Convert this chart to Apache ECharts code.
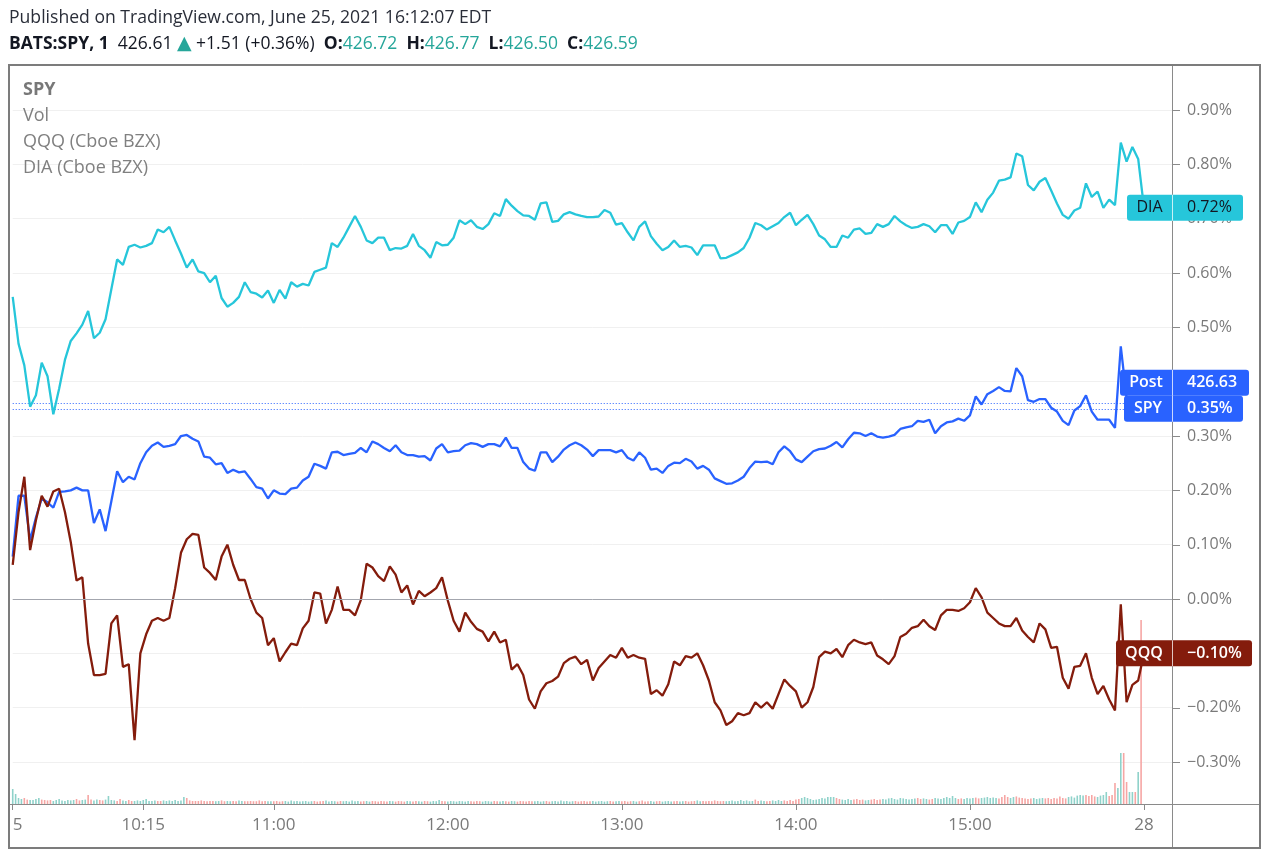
<!DOCTYPE html>
<html><head><meta charset="utf-8">
<script src="https://cdn.jsdelivr.net/npm/echarts@6/dist/echarts.min.js"></script>
<style>html,body{margin:0;padding:0;background:#fff}#chart{width:1270px;height:857px}</style>
</head><body><div id="chart"></div>
<script>
// time grid: minutes after 09:30, one reading every 2 minutes
const minuteStart = 0;
const minuteStep = 2;

const diaPct = [
0.556,0.47,0.43,0.354,0.375,0.435,0.41,0.34,0.387,0.44,0.475,0.489,0.505,0.53,0.48,0.49,0.515,0.57,0.625,0.615,
0.648,0.652,0.647,0.65,0.655,0.68,0.675,0.685,0.66,0.636,0.61,0.625,0.603,0.6,0.583,0.595,0.554,0.538,0.545,0.556,
0.583,0.565,0.562,0.555,0.568,0.545,0.569,0.553,0.583,0.575,0.58,0.577,0.602,0.606,0.61,0.655,0.648,0.665,0.685,0.705,
0.685,0.66,0.655,0.665,0.665,0.642,0.646,0.645,0.65,0.672,0.65,0.642,0.628,0.657,0.651,0.652,0.665,0.697,0.69,0.697,
0.685,0.681,0.69,0.71,0.705,0.736,0.724,0.714,0.706,0.705,0.698,0.728,0.73,0.694,0.696,0.708,0.712,0.708,0.705,0.703,
0.703,0.704,0.716,0.711,0.689,0.692,0.675,0.66,0.685,0.695,0.668,0.654,0.642,0.648,0.66,0.648,0.65,0.647,0.633,0.651,
0.651,0.651,0.627,0.628,0.633,0.638,0.646,0.665,0.692,0.688,0.68,0.686,0.692,0.703,0.711,0.688,0.698,0.707,0.69,0.669,
0.662,0.648,0.648,0.669,0.665,0.68,0.682,0.672,0.674,0.69,0.685,0.69,0.705,0.695,0.688,0.683,0.685,0.69,0.686,0.675,
0.688,0.688,0.672,0.693,0.696,0.703,0.73,0.712,0.735,0.748,0.77,0.772,0.776,0.82,0.815,0.762,0.752,0.768,0.775,0.752,
0.728,0.707,0.7,0.715,0.72,0.765,0.74,0.75,0.72,0.735,0.725,0.84,0.805,0.832,0.81,0.72
];

const spyPct = [
0.078,0.19,0.19,0.108,0.15,0.185,0.178,0.168,0.197,0.198,0.2,0.205,0.2,0.2,0.14,0.165,0.125,0.18,0.235,0.215,
0.225,0.22,0.25,0.27,0.282,0.288,0.28,0.282,0.285,0.3,0.302,0.295,0.29,0.262,0.26,0.248,0.25,0.232,0.238,0.233,
0.235,0.221,0.206,0.203,0.185,0.2,0.194,0.193,0.203,0.205,0.218,0.225,0.249,0.245,0.24,0.27,0.271,0.265,0.267,0.269,
0.278,0.27,0.29,0.285,0.278,0.272,0.283,0.27,0.265,0.265,0.262,0.263,0.255,0.277,0.285,0.27,0.272,0.273,0.283,0.287,
0.285,0.28,0.285,0.285,0.281,0.297,0.278,0.278,0.252,0.24,0.236,0.27,0.27,0.252,0.262,0.275,0.283,0.288,0.283,0.275,
0.263,0.274,0.274,0.274,0.27,0.274,0.26,0.255,0.27,0.26,0.238,0.24,0.232,0.245,0.251,0.25,0.258,0.253,0.24,0.245,
0.238,0.222,0.217,0.212,0.213,0.218,0.225,0.241,0.253,0.252,0.253,0.248,0.27,0.281,0.272,0.257,0.252,0.262,0.272,0.276,
0.277,0.282,0.289,0.279,0.294,0.306,0.305,0.3,0.305,0.299,0.297,0.299,0.302,0.313,0.316,0.318,0.328,0.326,0.33,0.305,
0.318,0.325,0.327,0.332,0.328,0.338,0.373,0.358,0.377,0.383,0.39,0.383,0.382,0.425,0.41,0.366,0.363,0.368,0.368,0.352,
0.345,0.328,0.32,0.347,0.355,0.375,0.345,0.33,0.33,0.33,0.315,0.465,0.37,0.35,0.35,0.35
];

const qqqPct = [
0.063,0.16,0.225,0.09,0.145,0.19,0.17,0.198,0.203,0.16,0.105,0.034,0.04,-0.082,-0.14,-0.14,-0.138,-0.045,-0.03,-0.125,
-0.12,-0.26,-0.1,-0.065,-0.04,-0.035,-0.04,-0.035,0.02,0.085,0.11,0.12,0.118,0.058,0.048,0.035,0.078,0.1,0.063,0.035,
0.035,0.0,-0.025,-0.035,-0.085,-0.072,-0.115,-0.098,-0.082,-0.085,-0.054,-0.04,0.012,0.01,-0.045,-0.02,0.023,-0.02,-0.02,-0.03,
-0.002,0.065,0.058,0.042,0.033,0.06,0.045,0.012,0.025,-0.01,0.015,0.005,0.012,0.02,0.04,-0.003,-0.04,-0.06,-0.025,-0.042,
-0.055,-0.06,-0.078,-0.06,-0.08,-0.075,-0.13,-0.12,-0.14,-0.185,-0.202,-0.17,-0.155,-0.151,-0.143,-0.118,-0.11,-0.106,-0.12,-0.112,
-0.15,-0.127,-0.115,-0.103,-0.108,-0.09,-0.108,-0.103,-0.108,-0.11,-0.175,-0.168,-0.178,-0.157,-0.115,-0.122,-0.105,-0.108,-0.1,-0.122,
-0.15,-0.19,-0.205,-0.232,-0.225,-0.21,-0.214,-0.21,-0.19,-0.2,-0.19,-0.202,-0.175,-0.148,-0.16,-0.17,-0.2,-0.19,-0.162,-0.107,
-0.097,-0.1,-0.092,-0.107,-0.085,-0.075,-0.08,-0.083,-0.08,-0.104,-0.111,-0.12,-0.105,-0.07,-0.064,-0.053,-0.05,-0.038,-0.05,-0.057,
-0.03,-0.02,-0.02,-0.022,-0.017,-0.006,0.02,0.003,-0.025,-0.035,-0.045,-0.05,-0.05,-0.035,-0.058,-0.07,-0.08,-0.045,-0.056,-0.09,
-0.088,-0.145,-0.165,-0.125,-0.123,-0.1,-0.145,-0.175,-0.16,-0.185,-0.205,-0.01,-0.19,-0.158,-0.15,-0.1
];

// SPY volume per minute (thousands of shares), 09:30 .. 15:59
const volumeK = [
75,50,30,25,30,22,20,20,25,30,22,20,18,20,15,20,25,18,15,20,18,20,25,18,20,22,45,22,18,22,
20,18,22,40,20,18,15,25,18,15,20,15,15,18,15,20,25,15,15,18,15,15,18,15,18,15,20,15,18,35,
30,18,15,15,15,18,15,14,15,15,14,15,18,14,15,14,15,14,18,15,14,14,15,14,14,18,14,15,14,14,
14,15,12,14,15,12,18,14,15,12,14,15,12,14,15,12,14,15,18,12,15,14,12,15,14,15,12,18,14,15,
12,14,15,12,15,14,12,15,14,12,15,14,12,15,14,12,15,14,12,15,14,12,15,14,12,15,14,20,15,14,
12,15,14,12,15,14,12,15,14,12,15,14,12,15,14,12,15,14,12,15,14,12,15,14,12,15,14,12,15,14,
14,15,12,14,15,12,14,15,12,18,14,15,12,14,15,12,14,15,12,14,15,12,14,15,12,14,15,12,14,15,
14,15,12,14,15,12,14,18,12,14,15,12,14,15,12,14,15,12,14,15,12,14,15,12,14,15,18,14,15,14,
15,14,18,15,14,15,14,15,18,14,15,20,15,18,14,15,22,15,18,15,14,15,18,15,20,15,18,15,20,15,
22,25,30,35,30,25,20,22,25,30,28,35,35,35,30,25,22,20,25,20,22,25,20,22,18,20,22,25,20,22,
25,22,28,30,25,22,30,28,25,22,25,28,30,25,28,25,22,25,30,28,25,30,35,30,40,30,25,28,25,30,
28,30,32,28,30,32,35,30,32,30,28,35,45,35,30,35,38,32,30,28,25,28,30,25,28,30,28,30,25,30,
28,38,30,28,35,38,32,42,45,42,45,40,45,38,35,42,45,60,40,45,105,80,255,255,110,60,60,60,160,920
];
// bar direction per minute: u = close above open, d = close below open
const volumeDir =
"uuuudduuuudddduuuuuuuudduudduu" +
"dduuuudduudduuuuuuuudduuuuuuuu" +
"dddddddddduudduudduudddddddduu" +
"dddduuuuuuuuuudddduuuudduuuuuu" +
"dduudddddduudddduudduudduuuudd" +
"uuuuuuuudddduuuudduudduudddddd" +
"uuuudduuuuuuuudddddduuuuuudduu" +
"dddduudddduudduuuudduudddduudd" +
"dddddduuuuuuuuuudduudduuuudddd" +
"dduuuuuuuuuuuudduuuudddduudddd" +
"uuuuuuuuuuuudduudduuuuuuuudduu" +
"uudduuuuuudddduudddddduuuudddd" +
"dddduuuuuudddduuuuddduudduudud";

const xTickMinutes = [0, 45, 90, 150, 210, 270, 330, 390];
const xTickLabels = ['25', '10:15', '11:00', '12:00', '13:00', '14:00', '15:00', '28'];
const yTickValues = [-0.3, -0.2, -0.1, 0, 0.1, 0.2, 0.3, 0.4, 0.5, 0.6, 0.7, 0.8, 0.9];

const lastLabels = {
  dia: {name: 'DIA', value: 0.72},
  spy: {name: 'SPY', value: 0.35},
  post: {name: 'Post', value: 0.3613, price: '426.63'},
  qqq: {name: 'QQQ', value: -0.10}
};

// ---- layout (pixels) ----
const FONT = "'Open Sans', 'Noto Sans', sans-serif";
const C_DIA = '#26c6da', C_SPY = '#2962ff', C_QQQ = '#841c0c';
const AXIS_X = 1172, PLOT_LEFT = 11, PLOT_BOTTOM = 804;
const ZERO_Y = 599, PX_PER_PCT = 543.3, PX_PER_MIN = 2.905;
const Y_MIN = -0.4, Y_MAX = 1.0;
const GRID_TOP = ZERO_Y - Y_MAX * PX_PER_PCT;
const GRID_H = (Y_MAX - Y_MIN) * PX_PER_PCT;
const GRID_BOTTOM_Y = GRID_TOP + GRID_H;
const K_PER_PX = 5;
const VOL_MAX = (PLOT_BOTTOM - GRID_TOP) * K_PER_PX;
const VOL_MIN = -(GRID_BOTTOM_Y - PLOT_BOTTOM) * K_PER_PX;
const X_MAX = (AXIS_X - PLOT_LEFT) / PX_PER_MIN;

function pairs(arr) { return arr.map((v, i) => [minuteStart + i * minuteStep, v]); }
function fmtPct(v) {
  const r = Math.round(v * 100) / 100;
  return (r < 0 ? '\u2212' : '') + Math.abs(r).toFixed(2) + '%';
}

const chart = echarts.init(document.getElementById('chart'), null, {renderer: 'canvas'});

const volData = volumeK.map((v, i) => ({
  value: [i, v],
  itemStyle: {color: volumeDir.charAt(i) === 'd' ? '#f6a6a4' : '#8fd2ca'}
}));

const option = {
  animation: false,
  backgroundColor: '#ffffff',
  textStyle: {fontFamily: FONT},
  grid: {left: PLOT_LEFT, right: 1270 - AXIS_X, top: GRID_TOP, height: GRID_H},
  xAxis: {type: 'value', min: 0, max: X_MAX, offset: -(GRID_BOTTOM_Y - PLOT_BOTTOM),
    axisLine: {show: false, onZero: false},
    splitLine: {show: false},
    axisTick: {show: true, customValues: xTickMinutes, length: 6, lineStyle: {color: '#8a8a8a'}},
    axisLabel: {customValues: xTickMinutes, color: '#7a7a7a', fontSize: 17, fontFamily: FONT, margin: 13,
      formatter: v => {
        const i = xTickMinutes.findIndex(t => Math.abs(t - v) < 1e-6);
        if (i < 0) return '';
        // the first label sits under the chart frame; its first character is hidden behind it
        return i === 0 ? '{h|' + xTickLabels[0].slice(0, 1) + '}' + xTickLabels[0].slice(1) : xTickLabels[i];
      },
      rich: {h: {color: 'rgba(255,255,255,0)', fontSize: 17, fontFamily: FONT}}
    }
  },
  yAxis: [
    {type: 'value', position: 'right', min: Y_MIN, max: Y_MAX, interval: 0.1,
      axisLine: {show: false, onZero: false},
      axisTick: {show: false},
      axisLabel: {customValues: yTickValues, color: '#7a7a7a', fontSize: 16, fontFamily: FONT, margin: 15, formatter: fmtPct},
      splitLine: {show: true, showMinLine: false, showMaxLine: false, lineStyle: {color: '#f0f0f0', width: 1}}
    },
    {type: 'value', position: 'right', min: VOL_MIN, max: VOL_MAX, show: false,
      axisLine: {show: false, onZero: false}, axisTick: {show: false}, axisLabel: {show: false}, splitLine: {show: false}}
  ],
  series: [
    {name: 'Vol', type: 'bar', yAxisIndex: 1, barWidth: 1.6, data: volData, silent: true, z: 1},
    {name: 'SPY', type: 'line', yAxisIndex: 0, data: pairs(spyPct), showSymbol: false, z: 3,
      lineStyle: {width: 2.3, color: C_SPY}, itemStyle: {color: C_SPY},
      markLine: {silent: true, symbol: ['none', 'none'], label: {show: false},
        lineStyle: {color: C_SPY, type: [1, 2], width: 1},
        data: [{yAxis: lastLabels.spy.value}, {yAxis: lastLabels.post.value}]}
    },
    {name: 'QQQ', type: 'line', yAxisIndex: 0, data: pairs(qqqPct), showSymbol: false, z: 4,
      lineStyle: {width: 2.3, color: C_QQQ}, itemStyle: {color: C_QQQ},
      markLine: {silent: true, symbol: ['none', 'none'], label: {show: false},
        lineStyle: {color: '#a3a6ae', type: 'solid', width: 1}, data: [{yAxis: 0}]}
    },
    {name: 'DIA', type: 'line', yAxisIndex: 0, data: pairs(diaPct), showSymbol: false, z: 5,
      lineStyle: {width: 2.3, color: C_DIA}, itemStyle: {color: C_DIA}}
  ]
};
chart.setOption(option);

const yOf = v => chart.convertToPixel({yAxisIndex: 0}, v);

function priceBox(left, right, cy, fill, textColor, name, valueText, bold) {
  const h = 26;
  const nameCx = left + (AXIS_X - left) / 2;
  const font = (bold ? '600 ' : '') + '16px ' + FONT;
  return [
    {type: 'rect', z: 100, shape: {x: left, y: cy - h / 2, width: right - left, height: h, r: 3}, style: {fill: fill}},
    {type: 'rect', z: 101, shape: {x: AXIS_X, y: cy - h / 2, width: 1, height: h}, style: {fill: 'rgba(255,255,255,0.75)'}},
    {type: 'text', z: 102, x: nameCx, y: cy, style: {text: name, fill: textColor, font: font, align: 'center', verticalAlign: 'middle'}},
    {type: 'text', z: 102, x: AXIS_X + 15, y: cy, style: {text: valueText, fill: textColor, font: font, align: 'left', verticalAlign: 'middle'}}
  ];
}

// price-scale tick marks, placed through the y scale
const yTicks = yTickValues.map(v => ({type: 'rect', z: 96,
  shape: {x: AXIS_X + 1, y: Math.round(yOf(v)), width: 7, height: 1}, style: {fill: '#8a8a8a'}}));

const ySpy = yOf(lastLabels.spy.value);
const graphics = [
  // header
  {type: 'text', z: 100, x: 9, y: 18, style: {text: 'Published on TradingView.com, June 25, 2021 16:12:07 EDT', fill: '#2a2e39', font: '17.6px ' + FONT, verticalAlign: 'middle'}},
  {type: 'text', z: 100, x: 9, y: 44, style: {
    text: '{b|BATS:SPY, 1}  {n|426.61} {a|\u25B2} {n|+1.51 (+0.36%)}  {b|O:}{t|426.72}  {b|H:}{t|426.77}  {b|L:}{t|426.50}  {b|C:}{t|426.59}',
    verticalAlign: 'middle', font: '17.5px ' + FONT,
    rich: {
      b: {fontWeight: 'bold', fill: '#131722', fontSize: 17.5, fontFamily: FONT},
      n: {fill: '#131722', fontSize: 17.5, fontFamily: FONT},
      a: {fill: '#26a69a', fontSize: 19, fontFamily: "'DejaVu Sans', sans-serif"},
      t: {fill: '#26a69a', fontSize: 17.5, fontFamily: FONT}
    }}},
  // legend
  {type: 'text', z: 100, x: 23, y: 90, style: {text: 'SPY', fill: '#787878', font: 'bold 18px ' + FONT, verticalAlign: 'middle'}},
  {type: 'text', z: 100, x: 23, y: 116, style: {text: 'Vol', fill: '#808080', font: '18px ' + FONT, verticalAlign: 'middle'}},
  {type: 'text', z: 100, x: 23, y: 142, style: {text: 'QQQ (Cboe BZX)', fill: '#808080', font: '18px ' + FONT, verticalAlign: 'middle'}},
  {type: 'text', z: 100, x: 23, y: 168, style: {text: 'DIA (Cboe BZX)', fill: '#808080', font: '18px ' + FONT, verticalAlign: 'middle'}},
  // axes cross
  {type: 'rect', z: 95, shape: {x: AXIS_X, y: 65, width: 1, height: 783}, style: {fill: '#8a8a8a'}},
  {type: 'rect', z: 95, shape: {x: 10, y: PLOT_BOTTOM, width: 1250, height: 1}, style: {fill: '#8a8a8a'}},
  // frame
  {type: 'rect', z: 130, shape: {x: 9, y: 65, width: 1251, height: 783}, style: {fill: 'none', stroke: '#7c7c7c', lineWidth: 2}}
]
.concat(yTicks)
.concat(priceBox(1127, 1243, yOf(lastLabels.dia.value), C_DIA, '#131722', lastLabels.dia.name, fmtPct(lastLabels.dia.value), false))
.concat(priceBox(1120, 1249, ySpy - 26, C_SPY, '#ffffff', lastLabels.post.name, lastLabels.post.price, true))
.concat(priceBox(1124, 1243, ySpy, C_SPY, '#ffffff', lastLabels.spy.name, fmtPct(lastLabels.spy.value), true))
.concat(priceBox(1116, 1252, yOf(lastLabels.qqq.value), C_QQQ, '#ffffff', lastLabels.qqq.name, fmtPct(lastLabels.qqq.value), true));

chart.setOption({graphic: graphics});
</script>
</body></html>
